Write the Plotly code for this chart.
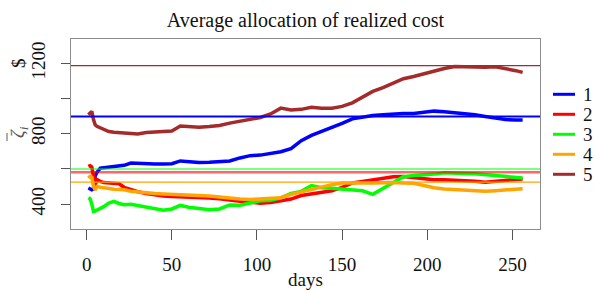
import plotly.graph_objects as go

days = [1, 2, 3, 4, 5, 6, 8, 10, 13, 16, 19, 22, 26, 30, 35, 40, 45, 50, 55, 60,
        66, 72, 78, 84, 90, 96, 102, 108, 114, 120, 126, 132, 138, 144, 150, 156,
        162, 168, 174, 180, 186, 192, 198, 204, 210, 216, 222, 228, 234, 240, 246,
        252, 256]

s1 = [491, 488, 481, 485, 560, 580, 604, 606, 610, 614, 618, 620, 633, 630, 629, 627,
      627, 629, 645, 640, 636, 638, 640, 645, 662, 675, 678, 685, 697, 715, 760, 790,
      812, 832, 858, 884, 895, 903, 908, 912, 915, 915, 922, 928, 925, 920, 915, 907,
      898, 888, 880, 878, 878]
s2 = [614, 618, 610, 560, 505, 540, 528, 522, 519, 519, 515, 495, 480, 470, 460, 452,
      446, 443, 442, 440, 438, 434, 430, 420, 415, 410, 405, 408, 418, 428, 448, 458,
      465, 475, 495, 520, 528, 538, 546, 555, 557, 552, 543, 538, 538, 536, 534, 530,
      524, 530, 538, 540, 542]
s3 = [436, 430, 400, 358, 360, 365, 372, 385, 405, 415, 403, 396, 398, 390, 380, 370,
      365, 372, 392, 382, 373, 368, 372, 395, 393, 405, 418, 422, 435, 460, 472, 505,
      492, 490, 485, 478, 475, 455, 490, 525, 555, 562, 565, 570, 578, 578, 574, 572,
      567, 562, 560, 553, 548]
s4 = [548, 557, 552, 500, 480, 500, 495, 491, 487, 484, 483, 481, 473, 468, 462, 460,
      457, 455, 453, 452, 450, 446, 440, 432, 428, 425, 430, 434, 436, 455, 470, 485,
      495, 510, 519, 522, 520, 519, 521, 523, 520, 518, 505, 492, 486, 482, 478, 474,
      472, 476, 481, 486, 487]
s5 = [907, 915, 926, 880, 850, 842, 832, 825, 812, 808, 806, 803, 800, 798, 806, 810,
      810, 815, 843, 840, 837, 840, 846, 860, 870, 878, 892, 912, 945, 935, 938, 950,
      945, 945, 955, 975, 1010, 1040, 1062, 1085, 1112, 1125, 1140, 1160, 1170, 1182,
      1180, 1178, 1178, 1180, 1170, 1158, 1148]

series_names = ["1", "2", "3", "4", "5"]
series_values = [s1, s2, s3, s4, s5]
reference_levels = [898, 580, 599, 525, 1187]

x_ticks = [0, 50, 100, 150, 200, 250]
y_ticks = [400, 600, 800, 1000, 1200]
y_ticktext = ["400", "", "800", "", "1200"]

colors = ["#0000FF", "#FF0000", "#00FF00", "#FFA500", "#A52A2A"]
hline_colors = ["#0000FF", "rgba(255,0,0,0.6)", "#00FF00", "#FFA500", "#A52A2A"]
hline_widths = [2, 2.5, 1.2, 1.2, 1.2]

FONT = "Liberation Serif"
fig = go.Figure()
for name, vals, c in zip(series_names, series_values, colors):
    fig.add_trace(go.Scatter(x=days, y=vals, mode="lines", name=name,
                             line=dict(color=c, width=3.5), showlegend=False))

for lvl, c, w in zip(reference_levels, hline_colors, hline_widths):
    fig.add_hline(y=lvl, line=dict(color=c, width=w), layer="above")

# plot area geometry (pixels)
L, R, T, B = 71, 540, 39, 229
W, H = 595, 290
pw, ph = R - L, B - T

def px(xp):
    return (xp - L) / pw

def py(yp):
    return (B - yp) / ph

# manual legend
for i, (name, c) in enumerate(zip(series_names, colors)):
    yy = 94.3 + 20 * i
    fig.add_shape(type="line", xref="paper", yref="paper",
                  x0=px(553), x1=px(575), y0=py(yy), y1=py(yy),
                  line=dict(color=c, width=3))
    fig.add_annotation(xref="paper", yref="paper", x=px(581), y=py(yy + 0.5),
                       text=name, showarrow=False, xanchor="left", yanchor="middle",
                       font=dict(family=FONT, size=19, color="#111"))

# axis labels
fig.add_annotation(xref="paper", yref="paper", x=px(305), y=py(279),
                   text="days", showarrow=False, xanchor="center", yanchor="middle",
                   font=dict(family=FONT, size=19, color="#111"))
fig.add_annotation(xref="paper", yref="paper", x=px(19), y=py(63),
                   text="$", showarrow=False, textangle=-90,
                   xanchor="center", yanchor="middle",
                   font=dict(family=FONT, size=19, color="#111"))
fig.add_annotation(xref="paper", yref="paper", x=px(19), y=py(132),
                   text="<i>ζ</i><sub><i>i</i></sub>", showarrow=False, textangle=-90,
                   xanchor="center", yanchor="middle",
                   font=dict(family=FONT, size=19, color="#555"))
# macron over zeta (rotated text -> bar sits to the left)
fig.add_shape(type="line", xref="paper", yref="paper",
              x0=px(7), x1=px(7), y0=py(141), y1=py(133),
              line=dict(color="#777", width=1.2))

fig.update_layout(
    width=W, height=H,
    margin=dict(l=L, r=W - R, t=T, b=H - B, pad=0, autoexpand=False),
    plot_bgcolor="white", paper_bgcolor="white",
    title=dict(text="Average allocation of realized cost", x=(L + R) / 2 / W,
               xanchor="center", y=1 - 20 / H, yanchor="middle",
               font=dict(family=FONT, size=20, color="#111")),
    font=dict(family=FONT, size=18, color="#111"),
    xaxis=dict(range=[-9.2, 266.2], tickvals=x_ticks, showgrid=False, zeroline=False,
               showline=True, mirror=True, linecolor="#8c8c8c", linewidth=1,
               ticks="outside", ticklen=10, tickcolor="#555", tickwidth=1,
               automargin=False,
               ticklabelstandoff=8, tickfont=dict(family=FONT, size=19, color="#111")),
    yaxis=dict(range=[258, 1338], tickvals=y_ticks, ticktext=y_ticktext,
               showgrid=False, zeroline=False,
               showline=True, mirror=True, linecolor="#8c8c8c", linewidth=1,
               ticks="outside", ticklen=9, tickcolor="#555", tickwidth=1,
               tickangle=-90, ticklabelstandoff=8, automargin=False,
               tickfont=dict(family=FONT, size=19, color="#111")),
)

fig.write_html("out.html", config={"displayModeBar": False},
               post_script="document.body.style.margin='0';document.body.style.padding='0';")
